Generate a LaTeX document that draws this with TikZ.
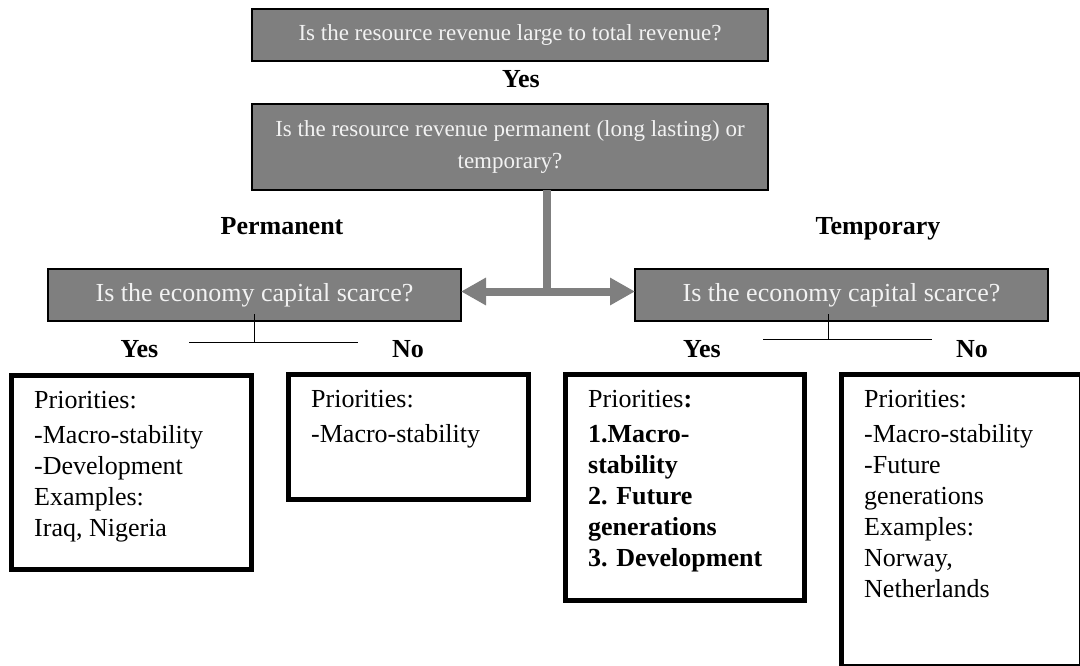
\documentclass[tikz,border=0pt]{standalone}
\usepackage{fontspec}
\setmainfont{Liberation Serif}
\usetikzlibrary{arrows.meta, positioning}
\definecolor{boxgray}{HTML}{7F7F7F}
\newcommand{\topfont}{\fontsize{23}{32}\selectfont}
\newcommand{\askfont}{\fontsize{26}{32}\selectfont}
\newcommand{\notefont}{\fontsize{26}{31}\selectfont}

\begin{document}
\begin{tikzpicture}[x=1pt, y=-1pt,
    ask/.style={draw=black, line width=1.2pt, fill=boxgray, text=white!95!black, font=\askfont, align=center, inner sep=0pt, outer sep=0pt},
    card/.style={draw=black, line width=5pt, inner sep=0pt, outer sep=0pt, anchor=north west},
    note/.style={font=\notefont, align=left, anchor=north west, inner sep=0pt},
    tag/.style={font=\notefont\bfseries, inner sep=0pt, anchor=base},
    bar/.style={draw=boxgray, line width=8pt},
    twig/.style={draw=black, line width=1pt}]
    \path[use as bounding box, clip] (0,0) rectangle (1080,666);

    % Questions
    \node[ask, font=\topfont, minimum width=516pt, minimum height=52pt] (large) at (510,35) {Is the resource revenue large to total revenue?};
    \node[ask, font=\topfont, minimum width=516pt, minimum height=86pt] (kind) at (510,147) {Is the resource revenue permanent (long lasting) or\\temporary?};
    \node[ask, minimum width=413pt, minimum height=52pt] (capP) at (254.5,295) {Is the economy capital scarce?};
    \node[ask, minimum width=413pt, minimum height=52pt] (capT) at (841.5,295) {Is the economy capital scarce?};

    % Answer labels
    \node[tag] (yesTop) at (521,88) {Yes};
    \node[tag] (perm) at (282,235) {Permanent};
    \node[tag] (temp) at (878,235) {Temporary};
    \node[tag] (yesP) at (139.5,357) {Yes};
    \node[tag] (noP) at (408,357) {No};
    \node[tag] (yesT) at (702,357) {Yes};
    \node[tag] (noT) at (972,357) {No};

    % Split of the revenue question
    \coordinate (split) at (546.7,291.5);
    \draw[bar] (split |- kind.south) -- (split);
    \draw[bar, {Triangle[length=25pt,width=26pt]}-{Triangle[length=25pt,width=26pt]}] (split -| capP.east) -- (split -| capT.west);

    % Yes/no branches
    \coordinate (stemP) at (254,314);
    \coordinate (forkP) at (254,342);
    \coordinate (twigPL) at (189,342);
    \coordinate (twigPR) at (358,342);
    \draw[twig] (stemP) -- (forkP);
    \draw[twig] (twigPL) -- (twigPR);
    \coordinate (stemT) at (828.3,314);
    \coordinate (forkT) at (828.3,339.3);
    \coordinate (twigTL) at (763,339.3);
    \coordinate (twigTR) at (932,339.3);
    \draw[twig] (stemT) -- (forkT);
    \draw[twig] (twigTL) -- (twigTR);

    % Priority cards
    \node[card, minimum width=240pt, minimum height=193.5pt] (cardPY) at (11.5,375.5) {};
    \node[card, minimum width=239.5pt, minimum height=124.5pt] (cardPN) at (288.5,374.5) {};
    \node[card, minimum width=238.5pt, minimum height=225.5pt] (cardTY) at (565.5,374.5) {};
    \node[card, minimum width=239.5pt, minimum height=292pt] (cardTN) at (841.5,374.5) {};

    \node[note] (textPY) at ([shift={(22.5,16)}]cardPY.north west) {Priorities:\\[4pt]-Macro-stability\\-Development\\Examples:\\Iraq, Nigeria};
    \node[note] (textPN) at ([shift={(22.5,16)}]cardPN.north west) {Priorities:\\[4pt]-Macro-stability};
    \node[note] (textTY) at ([shift={(22.5,16)}]cardTY.north west) {Priorities\textbf{:}\\[4pt]\textbf{1.Macro-}\\\textbf{stability}\\\textbf{2. Future}\\\textbf{generations}\\\textbf{3. Development}};
    \node[note] (textTN) at ([shift={(22.5,16)}]cardTN.north west) {Priorities:\\[4pt]-Macro-stability\\-Future\\generations\\Examples:\\Norway,\\Netherlands};
\end{tikzpicture}
\end{document}
